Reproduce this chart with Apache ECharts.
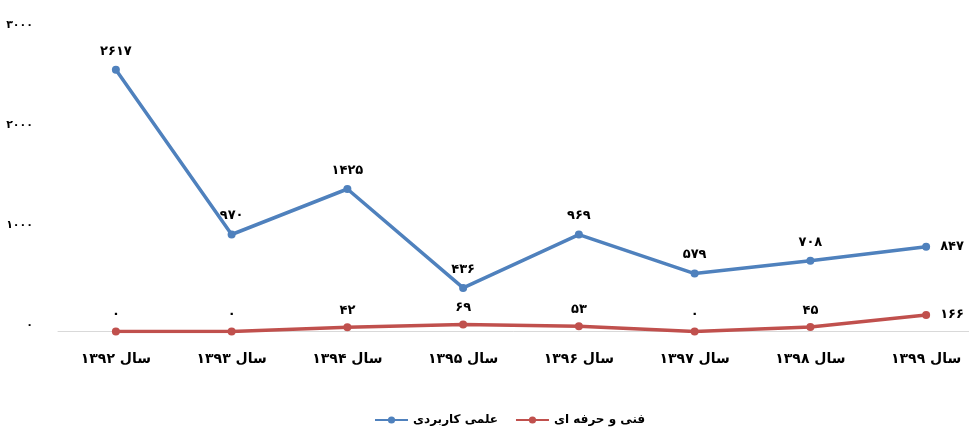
<!DOCTYPE html>
<html>
<head>
<meta charset="utf-8">
<script src="https://cdn.jsdelivr.net/npm/echarts@6/dist/echarts.min.js"></script>
<style>
  html, body { margin: 0; padding: 0; background: #fff; }
  #chart { width: 969px; height: 428px; }
</style>
</head>
<body>
<div id="chart"></div>
<script>
// سال‌ها (محور افقی)
var years = ['سال ۱۳۹۲', 'سال ۱۳۹۳', 'سال ۱۳۹۴', 'سال ۱۳۹۵', 'سال ۱۳۹۶', 'سال ۱۳۹۷', 'سال ۱۳۹۸', 'سال ۱۳۹۹']
// علمی کاربردی
var elmiKarbordi = [2617, 970, 1425, 436, 969, 579, 708, 847]
// فنی و حرفه ای
var fanniHerfei = [0, 0, 42, 69, 53, 0, 45, 166]
var seriesNames = ['علمی کاربردی', 'فنی و حرفه ای']

var FONT = "'DejaVu Sans', sans-serif"

// اعداد فارسی
function fa(n) {
  return String(n).replace(/\d/g, function (d) { return '۰۱۲۳۴۵۶۷۸۹'[d] })
}

// آخرین برچسب سمت راست نقطه
function withLastRight(arr, dist) {
  return arr.map(function (v, i) {
    if (i === arr.length - 1) {
      return { value: v, label: { position: 'right', distance: dist } }
    }
    return v
  })
}

var chart = echarts.init(document.getElementById('chart'))

var labelStyle = {
  show: true,
  position: 'top',
  fontFamily: FONT,
  fontWeight: 'bold',
  fontSize: 13,
  color: '#000',
  formatter: function (p) { return fa(p.value) }
}

var option = {
  animation: false,
  backgroundColor: '#fff',
  grid: {
    left: 58,
    top: 31.5,
    width: 926,
    height: 300,
    outerBoundsMode: 'none',
    containLabel: false
  },
  legend: {
    data: seriesNames,
    top: 409,
    left: 369,
    itemWidth: 33,
    itemHeight: 9,
    itemGap: 17,
    textStyle: { fontFamily: FONT, fontWeight: 'bold', fontSize: 12, color: '#000' }
  },
  xAxis: {
    type: 'category',
    data: years,
    boundaryGap: true,
    axisLine: { lineStyle: { color: '#d9d9d9', width: 1 } },
    axisTick: { show: false },
    axisLabel: {
      margin: 21,
      fontFamily: FONT,
      fontWeight: 'bold',
      fontSize: 14,
      color: '#000'
    }
  },
  yAxis: {
    type: 'value',
    min: 0,
    max: 3000,
    interval: 1000,
    splitLine: { show: false },
    axisLine: { show: false },
    axisTick: { show: false },
    axisLabel: {
      margin: 25,
      verticalAlign: 'bottom',
      lineHeight: 12,
      fontFamily: FONT,
      fontWeight: 'bold',
      fontSize: 11,
      color: '#000',
      formatter: function (v) { return fa(v) }
    }
  },
  series: [
    {
      name: seriesNames[0],
      type: 'line',
      data: withLastRight(elmiKarbordi, 10),
      color: '#4F81BD',
      symbol: 'circle',
      symbolSize: 8,
      lineStyle: { width: 3.5 },
      label: Object.assign({}, labelStyle, { distance: 8 })
    },
    {
      name: seriesNames[1],
      type: 'line',
      data: withLastRight(fanniHerfei, 10),
      color: '#C0504D',
      symbol: 'circle',
      symbolSize: 8,
      lineStyle: { width: 3.5 },
      label: Object.assign({}, labelStyle, { distance: 6 })
    }
  ]
}

chart.setOption(option)
</script>
</body>
</html>
